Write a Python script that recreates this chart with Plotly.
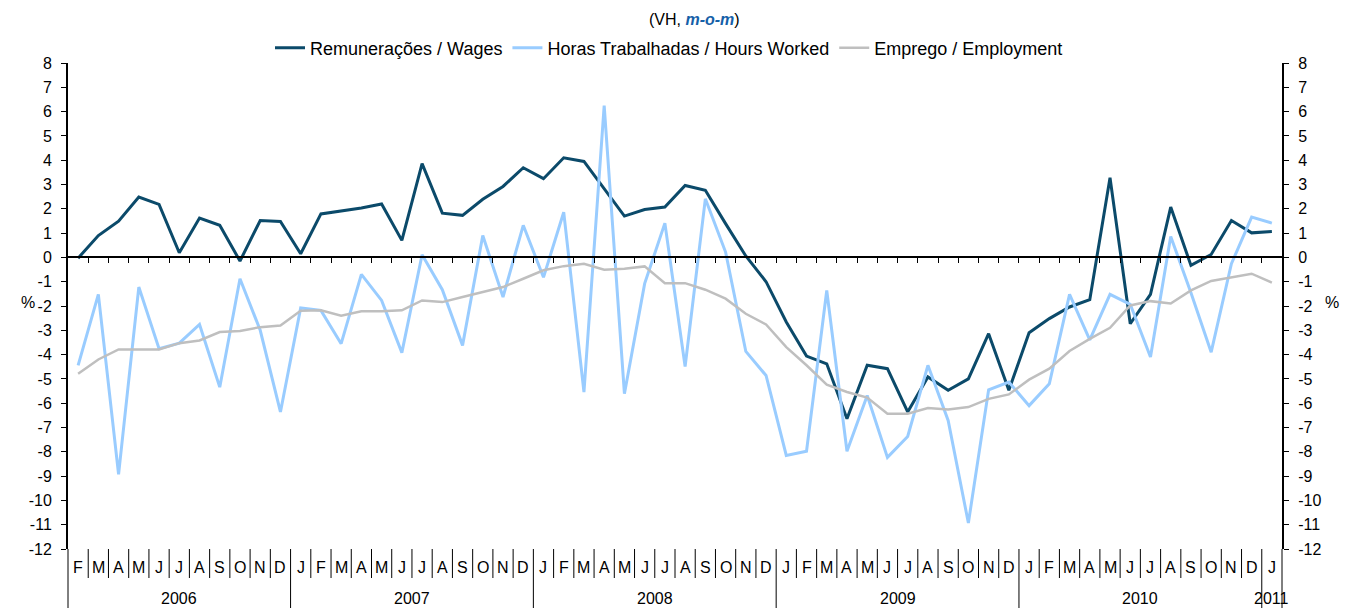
import plotly.graph_objects as go

# ---------------- data ----------------
month_labels = (["F", "M", "A", "M", "J", "J", "A", "S", "O", "N", "D"]
                + ["J", "F", "M", "A", "M", "J", "J", "A", "S", "O", "N", "D"] * 4
                + ["J"])
year_labels = ["2006", "2007", "2008", "2009", "2010", "2011"]
year_first_idx = [0, 11, 23, 35, 47, 59]
year_last_idx = [10, 22, 34, 46, 58, 59]

wages = [
    -0.03, 0.90, 1.49, 2.48, 2.18, 0.19, 1.62, 1.32, -0.15, 1.52, 1.48,
    0.15, 1.79, 1.90, 2.03, 2.20, 0.70, 3.86, 1.82, 1.73, 2.39, 2.92, 3.69,
    3.24, 4.10, 3.95, 2.80, 1.70, 1.97, 2.07, 2.96, 2.76, 1.39, 0.06, -1.00,
    -2.66, -4.06, -4.38, -6.64, -4.44, -4.58, -6.36, -4.92, -5.47, -5.00, -3.14, -5.47,
    -3.10, -2.52, -2.04, -1.74, 3.28, -2.73, -1.52, 2.07, -0.33, 0.12, 1.52, 1.01,
    1.07,
]
hours = [
    -4.44, -1.52, -8.93, -1.22, -3.76, -3.53, -2.76, -5.34, -0.88, -3.00, -6.36,
    -2.08, -2.18, -3.55, -0.70, -1.77, -3.92, 0.11, -1.33, -3.62, 0.90, -1.63, 1.32,
    -0.82, 1.86, -5.54, 6.25, -5.61, -1.08, 1.41, -4.49, 2.41, 0.22, -3.87, -4.86,
    -8.15, -7.98, -1.36, -7.98, -5.68, -8.23, -7.37, -4.44, -6.71, -10.93, -5.45, -5.13,
    -6.10, -5.20, -1.52, -3.39, -1.52, -1.93, -4.10, 0.86, -1.45, -3.90, -0.26, 1.66,
    1.41,
]
employment = [
    -4.79, -4.20, -3.79, -3.79, -3.79, -3.53, -3.42, -3.07, -3.03, -2.87, -2.80,
    -2.20, -2.18, -2.40, -2.22, -2.22, -2.18, -1.77, -1.84, -1.63, -1.43, -1.22, -0.88,
    -0.53, -0.36, -0.26, -0.51, -0.47, -0.37, -1.06, -1.06, -1.33, -1.70, -2.32, -2.76,
    -3.69, -4.44, -5.24, -5.54, -5.77, -6.43, -6.43, -6.20, -6.26, -6.16, -5.82, -5.64,
    -5.03, -4.58, -3.85, -3.35, -2.90, -1.98, -1.80, -1.90, -1.36, -0.97, -0.81, -0.67,
    -1.04,
]
y_ticks = list(range(-12, 9))
y_tick_text = [str(v) for v in y_ticks]  # plain hyphen minus, as in the reference

# ---------------- geometry ----------------
# the page body has an 8px margin, so the figure is drawn 8px in from the
# top-left corner of the window: size and positions are compensated for it
OFF = 8
FONT = "Liberation Sans, Arial, sans-serif"
WIN_W, WIN_H = 1349, 608
W, H = WIN_W - OFF, WIN_H - OFF
PLOT_L, PLOT_R, PLOT_T, PLOT_B = 68, 1282, 63, 549   # window pixels
ML, MR = PLOT_L - OFF, W - (PLOT_R - OFF)
MT, MB = PLOT_T - OFF, H - (PLOT_B - OFF)
PH = H - MT - MB
PW = W - ML - MR
n = len(month_labels)
x = list(range(n))


def py(win_y):
    """window pixel y -> paper coordinate"""
    return (PLOT_B - win_y) / PH


def px(win_x):
    return (win_x - PLOT_L) / PW


fig = go.Figure()
fig.add_trace(go.Scatter(x=x, y=wages, mode="lines", name="Remunerações / Wages",
                         line=dict(color="#0B4A6A", width=3)))
fig.add_trace(go.Scatter(x=x, y=hours, mode="lines", name="Horas Trabalhadas / Hours Worked",
                         line=dict(color="#99CCFF", width=3)))
fig.add_trace(go.Scatter(x=x, y=employment, mode="lines", name="Emprego / Employment",
                         line=dict(color="#BFBFBF", width=2.5), yaxis="y2"))

ymin, ymax = -12, 8
zero_pos = (0 - ymin) / (ymax - ymin)

axis_common = dict(range=[ymin, ymax], tickmode="array", tickvals=y_ticks,
                   ticktext=y_tick_text, ticks="outside", ticklen=5,
                   tickwidth=1, tickcolor="black", showline=True, linecolor="black",
                   linewidth=2, showgrid=False, zeroline=False, automargin=False,
                   tickfont=dict(family=FONT, size=16, color="black"),
                   ticklabelstandoff=6)

fig.update_layout(
    width=W, height=H,
    margin=dict(l=ML, r=MR, t=MT, b=MB, autoexpand=False),
    paper_bgcolor="white", plot_bgcolor="white",
    showlegend=True,
    legend=dict(orientation="h", xref="container", x=(669 - OFF) / W, xanchor="center",
                yref="container", y=1 - (48 - OFF) / H, yanchor="middle",
                font=dict(family=FONT, size=18, color="black"),
                bgcolor="rgba(0,0,0,0)", tracegroupgap=0),
    xaxis=dict(range=[-0.5, n - 0.5], anchor="free", position=zero_pos,
               showline=True, linecolor="black", linewidth=2,
               ticks="outside", tickmode="array", tickvals=[i + 0.5 for i in range(n - 1)],
               ticklen=5, tickwidth=1, tickcolor="black", automargin=False,
               showticklabels=False, showgrid=False, zeroline=False),
    yaxis=dict(**axis_common),
    yaxis2=dict(**axis_common, overlaying="y", side="right", anchor="x"),
)

annotations = []
# month labels
for i, lab in enumerate(month_labels):
    annotations.append(dict(x=i, xref="x", y=py(567), yref="paper",
                            text=lab, showarrow=False, yanchor="middle",
                            font=dict(family=FONT, size=16, color="black")))
# year labels
for lab, a, b in zip(year_labels, year_first_idx, year_last_idx):
    annotations.append(dict(x=(a + b) / 2, xref="x", y=py(598), yref="paper",
                            text=lab, showarrow=False, yanchor="middle",
                            font=dict(family=FONT, size=16, color="black")))
# % labels
for wx in [19, 1341]:
    annotations.append(dict(x=px(wx), xref="paper", y=py(302), yref="paper",
                            text="%", showarrow=False, yanchor="middle",
                            font=dict(family=FONT, size=16, color="black")))
# title
annotations.append(dict(x=px(694), xref="paper", y=py(20), yref="paper", yanchor="middle",
                        text='(VH, <span style="color:#1560A8"><b><i>m-o-m</i></b></span>)',
                        showarrow=False, font=dict(family=FONT, size=16, color="black")))
fig.update_layout(annotations=annotations)

# category separators under the plot
shapes = []
year_bounds = set([a - 0.5 for a in year_first_idx] + [n - 0.5])
for k in range(n + 1):
    b = k - 0.5
    xp = (b + 0.5) / n
    y_bottom = py(WIN_H) if b in year_bounds else py(578)
    shapes.append(dict(type="line", xref="paper", yref="paper", x0=xp, x1=xp,
                       y0=0, y1=y_bottom, line=dict(color="black", width=1)))
fig.update_layout(shapes=shapes)

fig.write_html("out.html")
